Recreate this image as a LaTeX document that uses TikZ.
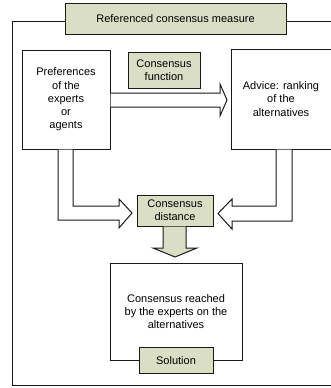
\documentclass[tikz,border=0pt]{standalone}
\usepackage{fontspec}
\setmainfont{Liberation Sans}
\definecolor{boxolive}{RGB}{218,222,196}
\definecolor{edgegray}{RGB}{25,25,25}
\tikzset{
  plainbox/.style={draw=edgegray,fill=white,line width=1pt,inner sep=0pt,align=center},
  olivebox/.style={draw=edgegray,fill=boxolive,line width=1pt,inner sep=0pt,align=center},
  blockarrow/.style={draw=edgegray,fill=white,line width=1pt,line join=miter},
}
\begin{document}
\begin{tikzpicture}[x=1pt,y=-1pt,font=\fontsize{11}{13.3}\selectfont]
\useasboundingbox (0,0) rectangle (331,388);
% frame of the measure
\draw[line width=1pt,edgegray] (345,21) -- (12,21) -- (12,385) -- (345,385);
\node[olivebox,minimum width=221pt,minimum height=31pt] (title) at (175.5,18.5) {Referenced consensus measure};
% inputs and output
\node[plainbox,minimum width=88pt,minimum height=99pt] (pref) at (66,99.5) {Preferences\\of the\\experts\\or\\agents};
\node[olivebox,minimum width=72pt,minimum height=36pt] (func) at (164,70) {Consensus\\function};
\node[plainbox,minimum width=100pt,minimum height=100pt] (advice) at (281,99) {Advice: ranking\\of the\\alternatives};
\node[olivebox,minimum width=76pt,minimum height=31pt] (dist) at (175,210.5) {Consensus\\distance};
\node[plainbox,minimum width=132pt,minimum height=97pt] (reach) at (176,311.5) {Consensus reached\\by the experts on the\\alternatives};
\node[olivebox,minimum width=74pt,minimum height=26pt] (sol) at (reach.south) {Solution};
% block arrows
\draw[blockarrow] (pref.east |- 0,93) -- (220,93) -- (220,84) -- (227,100) -- (220,116) -- (220,107) -- (pref.east |- 0,107);
\draw[blockarrow] (pref.south -| 58,0) -- (58,220) -- (119,220) -- (119,228) -- (132,213) -- (119,199) -- (119,206) -- (73,206) -- (pref.south -| 73,0);
\draw[blockarrow] (advice.south -| 292,0) -- (292,221) -- (232,221) -- (232,229) -- (218,213.5) -- (232,199) -- (232,206) -- (276,206) -- (advice.south -| 276,0);
\draw[blockarrow,fill=boxolive] (dist.south -| 163,0) -- (163,248) -- (153,248) -- (175,257) -- (197,248) -- (186,248) -- (dist.south -| 186,0);
\end{tikzpicture}
\end{document}
